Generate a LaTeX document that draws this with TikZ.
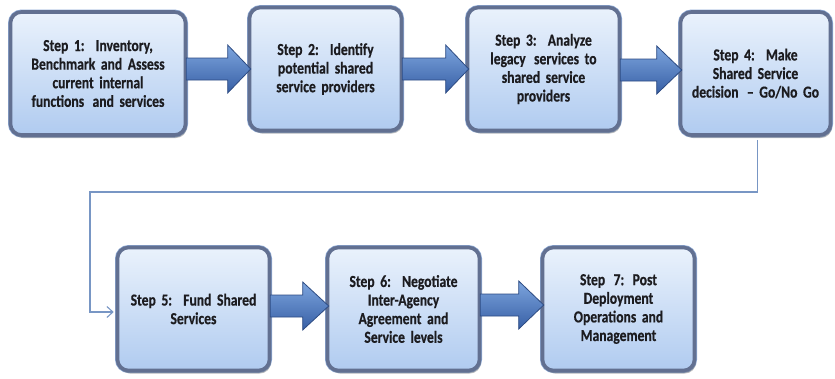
\documentclass[tikz,border=0pt]{standalone}
\usepackage{fontspec}
\setmainfont[FakeStretch=0.81, BoldFeatures={FakeBold=0.5}]{Carlito}
\usetikzlibrary{calc,shadows,arrows.meta}
\definecolor{boxtop}{RGB}{234,242,252}
\definecolor{boxbot}{RGB}{176,203,240}
\definecolor{boxedge}{RGB}{98,112,145}
\definecolor{boxrim}{RGB}{140,168,212}
\definecolor{arrtop}{RGB}{125,165,222}
\definecolor{arrbot}{RGB}{55,95,165}
\definecolor{arredge}{RGB}{45,75,130}
\definecolor{conncol}{RGB}{120,150,196}
\definecolor{txt}{RGB}{28,28,32}
\tikzset{
  stepbox/.style={rounded corners=11pt, minimum width=152pt, minimum height=123pt,
    top color=boxtop, bottom color=boxbot, draw=boxedge, line width=3.6pt,
    preaction={draw=boxrim, line width=5pt},
    drop shadow={shadow xshift=1.5pt, shadow yshift=-3pt, opacity=.4, fill=black!60},
    align=center, text width=142pt, font=\bfseries\fontsize{16.8}{18.6}\selectfont,
    text=txt},
  blockarr/.style={top color=arrtop, bottom color=arrbot, draw=arredge, line width=0.8pt, line join=miter},
  conn/.style={draw=conncol, line width=1.1pt, -{Straight Barb[length=6pt,width=11pt]}}
}
\newcommand\barrow[4]{%
  \path[blockarr] ($(#1.east|-0,#3)+(-1,-11)$) -- ($(#2.west|-0,#3)+(-#4,-11)$) -- ++(0,-13)
    -- ($(#2.west|-0,#3)+(3,0)$) -- ($(#2.west|-0,#3)+(-#4,24)$) -- ++(0,-13)
    -- ($(#1.east|-0,#3)+(-1,11)$) -- cycle;}
\begin{document}
\begin{tikzpicture}[x=1pt,y=-1pt]
\useasboundingbox (0,0) rectangle (835,378);
\node[stepbox, minimum width=175pt, text width=160pt] (b1) at (98,73.5) {Step 1:\, Inventory,\\Benchmark and Assess\\current internal\\functions\, and services};
\node[stepbox] (b2) at (325.5,69) {Step 2:\, Identify\\potential shared\\service providers};
\node[stepbox] (b3) at (543.5,69) {Step 3:\, Analyze\\legacy\, services to\\shared service\\providers};
\node[stepbox, minimum width=150pt] (b4) at (755.5,73.5) {Step 4:\, Make\\Shared Service\\decision\, -- Go/No Go};
\node[stepbox] (b5) at (193.5,309) {Step 5:\, Fund Shared\\Services};
\node[stepbox] (b6) at (403.5,309) {Step 6:\, Negotiate\\Inter-Agency\\Agreement and\\Service levels};
\node[stepbox] (b7) at (618.5,309) {Step\, 7: Post\\Deployment\\Operations and\\Management};
\barrow{b1}{b2}{69}{20}
\barrow{b2}{b3}{69}{20}
\barrow{b3}{b4}{70}{22}
\barrow{b5}{b6}{306}{23}
\barrow{b6}{b7}{305}{22}
\coordinate (c0) at ($(b4.south)+(2,3)$);
\coordinate (c1) at (90,192);
\coordinate (c2) at ($(b5.west)+(-2,3)$);
\draw[conn] (c0) -- (c0 |- c1) -- (c1) |- (c2);
\end{tikzpicture}
\end{document}
